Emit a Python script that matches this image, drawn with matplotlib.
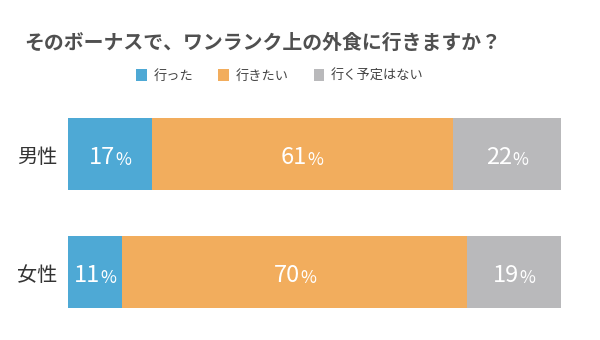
import numpy as np
import matplotlib
matplotlib.use("Agg")
import matplotlib.pyplot as plt

plt.rcParams['font.family'] = ['Noto Sans CJK JP', 'DejaVu Sans']

title = "そのボーナスで、ワンランク上の外食に行きますか？"
groups = ["男性", "女性"]
series_names = ["行った", "行きたい", "行く予定はない"]
went = [17, 11]
want = [61, 70]
no_plan = [22, 19]
colors = ["#4ea9d5", "#f2ad5d", "#b9b9bb"]

fig = plt.figure(figsize=(6, 3.4), dpi=100)
ax = fig.add_axes([68 / 600, 14 / 340, 493 / 600, 226 / 340])

y = np.arange(len(groups))
left = np.zeros(len(groups))
bars = []
for vals, name, c in zip([went, want, no_plan], series_names, colors):
    b = ax.barh(y, vals, left=left, height=0.61, color=c, label=name)
    bars.append(b)
    left = left + np.array(vals)

ax.set_xlim(0, 100)
ax.set_ylim(1.458, -0.458)
ax.axis('off')

for i, g in enumerate(groups):
    ax.text(-2.2, y[i] + 0.03, g, ha='right', va='center', fontsize=14.5, color='#333333')

# percentage labels: big number, small %
fig.canvas.draw()
renderer = fig.canvas.get_renderer()
inv = ax.transData.inverted()
left = np.zeros(len(groups))
for vals in [went, want, no_plan]:
    for i, v in enumerate(vals):
        cx = left[i] + v / 2
        t1 = ax.text(cx, y[i] + 0.03, str(v), ha='left', va='center', fontsize=17, color='white')
        t2 = ax.text(cx, y[i] + 0.05, "%", ha='left', va='center', fontsize=12.5, color='white')
        w1 = t1.get_window_extent(renderer).width
        w2 = t2.get_window_extent(renderer).width
        x0 = ax.transData.transform((cx, 0))[0] - (w1 + w2) / 2
        t1.set_x(inv.transform((x0, 0))[0])
        t2.set_x(inv.transform((x0 + w1 + 0.5, 0))[0])
    left = left + np.array(vals)

fig.text(263 / 600, 1 - 42 / 340, title, ha='center', va='center', fontsize=14.3,
         fontweight='bold', color='#505050')

fig.legend(handles=[b[0] for b in bars], labels=series_names, loc='center',
           bbox_to_anchor=(280 / 600, 1 - 76 / 340), ncol=3, frameon=False,
           fontsize=9.5, handlelength=0.8, handleheight=1.0, handletextpad=0.5,
           columnspacing=1.9, labelcolor='#444444')

fig.savefig("out.png", dpi=100, facecolor='white')
